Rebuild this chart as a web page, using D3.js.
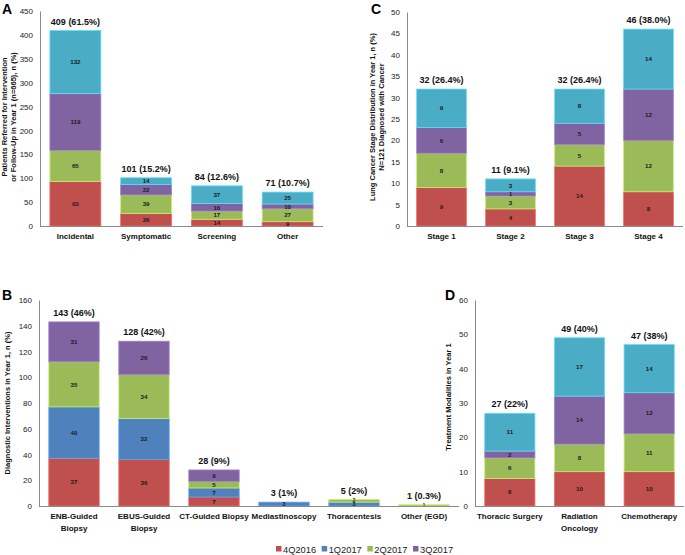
<!DOCTYPE html>
<html>
<head>
<meta charset="utf-8">
<script src="https://cdn.jsdelivr.net/npm/d3@7"></script>
<style>
  html, body { margin: 0; padding: 0; background: #fff; }
  svg { display: block; }
</style>
</head>
<body>
<svg id="chart" width="685" height="555"></svg>
<script>
// ---------------- DATA ----------------
// Panel A
const catsA = ["Incidental", "Symptomatic", "Screening", "Other"];
const redA = [93, 26, 14, 9];
const greenA = [65, 39, 17, 27];
const purpleA = [119, 22, 16, 10];
const cyanA = [132, 14, 37, 25];
const totalsA = ["409 (61.5%)", "101 (15.2%)", "84 (12.6%)", "71 (10.7%)"];
const ticksA = [0, 50, 100, 150, 200, 250, 300, 350, 400, 450];

// Panel B
const catsB = ["ENB-Guided|Biopsy", "EBUS-Guided|Biopsy", "CT-Guided Biopsy", "Mediastinoscopy", "Thoracentesis", "Other (EGD)"];
const redB = [37, 36, 7, 0, 0, 0];
const blueB = [40, 32, 7, 3, 3, 0];
const greenB = [35, 34, 5, 0, 2, 1];
const purpleB = [31, 26, 9, 0, 0, 0];
const totalsB = ["143 (46%)", "128 (42%)", "28 (9%)", "3 (1%)", "5 (2%)", "1 (0.3%)"];
const ticksB = [0, 20, 40, 60, 80, 100, 120, 140, 160];

// Panel C
const catsC = ["Stage 1", "Stage 2", "Stage 3", "Stage 4"];
const redC = [9, 4, 14, 8];
const greenC = [8, 3, 5, 12];
const purpleC = [6, 1, 5, 12];
const cyanC = [9, 3, 8, 14];
const totalsC = ["32 (26.4%)", "11 (9.1%)", "32 (26.4%)", "46 (38.0%)"];
const ticksC = [0, 5, 10, 15, 20, 25, 30, 35, 40, 45, 50];

// Panel D
const catsD = ["Thoracic Surgery", "Radiation|Oncology", "Chemotherapy"];
const redD = [8, 10, 10];
const greenD = [6, 8, 11];
const purpleD = [2, 14, 12];
const cyanD = [11, 17, 14];
const totalsD = ["27 (22%)", "49 (40%)", "47 (38%)"];
const ticksD = [0, 10, 20, 30, 40, 50, 60];

// Legend
const legendLabels = ["4Q2016", "1Q2017", "2Q2017", "3Q2017"];

// ---------------- STYLE ----------------
const COL = { red: "#c0504d", blue: "#4f81bd", green: "#9bbb59", purple: "#8064a2", cyan: "#4bacc6" };
const FONT = "Arial, 'Liberation Sans', Helvetica, sans-serif";
const svg = d3.select("#chart").style("font-family", FONT);

function panel(cfg) {
  const g = svg.append("g");
  const keys = cfg.series.map(s => s.key);
  const rows = cfg.cats.map((c, i) => {
    const r = { cat: c };
    cfg.series.forEach(s => r[s.key] = s.values[i]);
    return r;
  });
  const x = d3.scaleBand().domain(cfg.cats).range([cfg.x0, cfg.x1]).paddingInner(0.28).paddingOuter(0.14);
  const y = d3.scaleLinear().domain([0, cfg.max]).range([cfg.y0, cfg.yTop]);
  const colorOf = {};
  cfg.series.forEach(s => colorOf[s.key] = s.color);

  const stacked = d3.stack().keys(keys)(rows);

  // bars
  stacked.forEach(layer => {
    const lg = g.append("g");
    lg.selectAll("rect").data(layer.filter(d => d[1] - d[0] > 0)).join("rect")
      .attr("x", d => x(d.data.cat))
      .attr("width", x.bandwidth())
      .attr("y", d => y(d[1]))
      .attr("height", d => y(d[0]) - y(d[1]))
      .attr("fill", colorOf[layer.key])
      .attr("stroke", d3.color(colorOf[layer.key]).brighter(0.7))
      .attr("stroke-width", 0.8);
  });
  stacked.forEach(layer => {
    const lg = g.append("g");
    lg.selectAll("text").data(layer.filter(d => d[1] - d[0] > 0)).join("text")
      .attr("x", d => x(d.data.cat) + x.bandwidth() / 2)
      .attr("y", d => (y(d[0]) + y(d[1])) / 2)
      .attr("dy", "0.35em")
      .attr("text-anchor", "middle")
      .attr("font-size", d => Math.min(6.2, Math.max(4.5, y(d[0]) - y(d[1]) + 1.5)))
      .attr("font-weight", 600)
      .attr("fill", "#1a1a1a")
      .text(d => d[1] - d[0]);
  });

  // totals
  const totals = rows.map(r => d3.sum(keys, k => r[k]));
  g.selectAll("text.total").data(cfg.cats).join("text")
    .attr("class", "total")
    .attr("x", c => x(c) + x.bandwidth() / 2)
    .attr("y", (c, i) => y(totals[i]) - 6)
    .attr("text-anchor", "middle")
    .attr("font-size", 9)
    .attr("font-weight", "bold")
    .attr("fill", "#111")
    .text((c, i) => cfg.totals[i]);

  // y axis
  const ya = g.append("g").attr("transform", `translate(${cfg.x0},0)`)
    .call(d3.axisLeft(y).tickValues(cfg.ticks).tickSize(0).tickSizeOuter(0).tickPadding(7).tickFormat(d3.format("d")));
  ya.select(".domain").attr("stroke", "#8a8a8a").attr("stroke-width", 1);
  ya.selectAll("text").attr("font-size", 8).attr("fill", "#222").attr("font-family", FONT);

  // x axis
  const xa = g.append("g").attr("transform", `translate(0,${cfg.y0})`)
    .call(d3.axisBottom(x).tickSize(0).tickSizeOuter(0).tickFormat(""));
  xa.select(".domain").attr("stroke", "#8a8a8a").attr("stroke-width", 1)
    .attr("d", `M${cfg.x0},0.5H${cfg.x1}`);
  // category labels
  cfg.cats.forEach(c => {
    const parts = c.split("|");
    const t = g.append("text")
      .attr("x", x(c) + x.bandwidth() / 2)
      .attr("y", cfg.y0 + 13)
      .attr("text-anchor", "middle")
      .attr("font-size", 8)
      .attr("font-weight", "bold")
      .attr("fill", "#111");
    parts.forEach((p, i) => t.append("tspan").attr("x", x(c) + x.bandwidth() / 2).attr("dy", i === 0 ? 0 : 11.5).text(p));
  });

  // y title
  const tt = g.append("text")
    .attr("transform", `translate(${cfg.titleX},${cfg.titleY}) rotate(-90)`)
    .attr("text-anchor", "middle")
    .attr("font-size", 7.5)
    .attr("font-weight", "bold")
    .attr("fill", "#111");
  cfg.title.forEach((line, i) => tt.append("tspan").attr("x", 0).attr("dy", i === 0 ? 0 : 9).text(line));

  // panel letter
  g.append("text")
    .attr("x", cfg.letterX).attr("y", cfg.letterY)
    .attr("font-size", 14).attr("font-weight", "bold").attr("fill", "#000")
    .text(cfg.letter);
}

panel({
  letter: "A", letterX: 2, letterY: 14,
  cats: catsA, totals: totalsA, ticks: ticksA, max: 450,
  series: [
    { key: "red", values: redA, color: COL.red },
    { key: "green", values: greenA, color: COL.green },
    { key: "purple", values: purpleA, color: COL.purple },
    { key: "cyan", values: cyanA, color: COL.cyan }
  ],
  x0: 40, x1: 323, y0: 226, yTop: 11,
  title: ["Patients Referred for Intervention", "or Follow-Up in Year 1 (n=665), n (%)"],
  titleX: 7, titleY: 117
});

panel({
  letter: "C", letterX: 371, letterY: 14,
  cats: catsC, totals: totalsC, ticks: ticksC, max: 50,
  series: [
    { key: "red", values: redC, color: COL.red },
    { key: "green", values: greenC, color: COL.green },
    { key: "purple", values: purpleC, color: COL.purple },
    { key: "cyan", values: cyanC, color: COL.cyan }
  ],
  x0: 407, x1: 683, y0: 226, yTop: 12,
  title: ["Lung Cancer Stage Distribution in Year 1, n (%)", "N=121 Diagnosed with Cancer"],
  titleX: 375, titleY: 117
});

panel({
  letter: "B", letterX: 2, letterY: 300,
  cats: catsB, totals: totalsB, ticks: ticksB, max: 160,
  series: [
    { key: "red", values: redB, color: COL.red },
    { key: "blue", values: blueB, color: COL.blue },
    { key: "green", values: greenB, color: COL.green },
    { key: "purple", values: purpleB, color: COL.purple }
  ],
  x0: 39, x1: 459, y0: 506, yTop: 300,
  title: ["Diagnostic Interventions in Year 1, n (%)"],
  titleX: 10, titleY: 403
});

panel({
  letter: "D", letterX: 445, letterY: 300,
  cats: catsD, totals: totalsD, ticks: ticksD, max: 60,
  series: [
    { key: "red", values: redD, color: COL.red },
    { key: "green", values: greenD, color: COL.green },
    { key: "purple", values: purpleD, color: COL.purple },
    { key: "cyan", values: cyanD, color: COL.cyan }
  ],
  x0: 475, x1: 684, y0: 506, yTop: 300,
  title: ["Treatment Modalities in Year 1"],
  titleX: 451, titleY: 397
});

// legend
const legendColors = [COL.red, COL.blue, COL.green, COL.purple];
const lx = d3.scalePoint().domain(legendLabels).range([276, 413]);
const lg = svg.append("g");
legendLabels.forEach((l, i) => {
  lg.append("rect").attr("x", lx(l)).attr("y", 546).attr("width", 5.5).attr("height", 5.5).attr("fill", legendColors[i]);
  lg.append("text").attr("x", lx(l) + 7).attr("y", 552.5).attr("font-size", 9.3).attr("fill", "#222").text(l);
});
</script>
</body>
</html>
